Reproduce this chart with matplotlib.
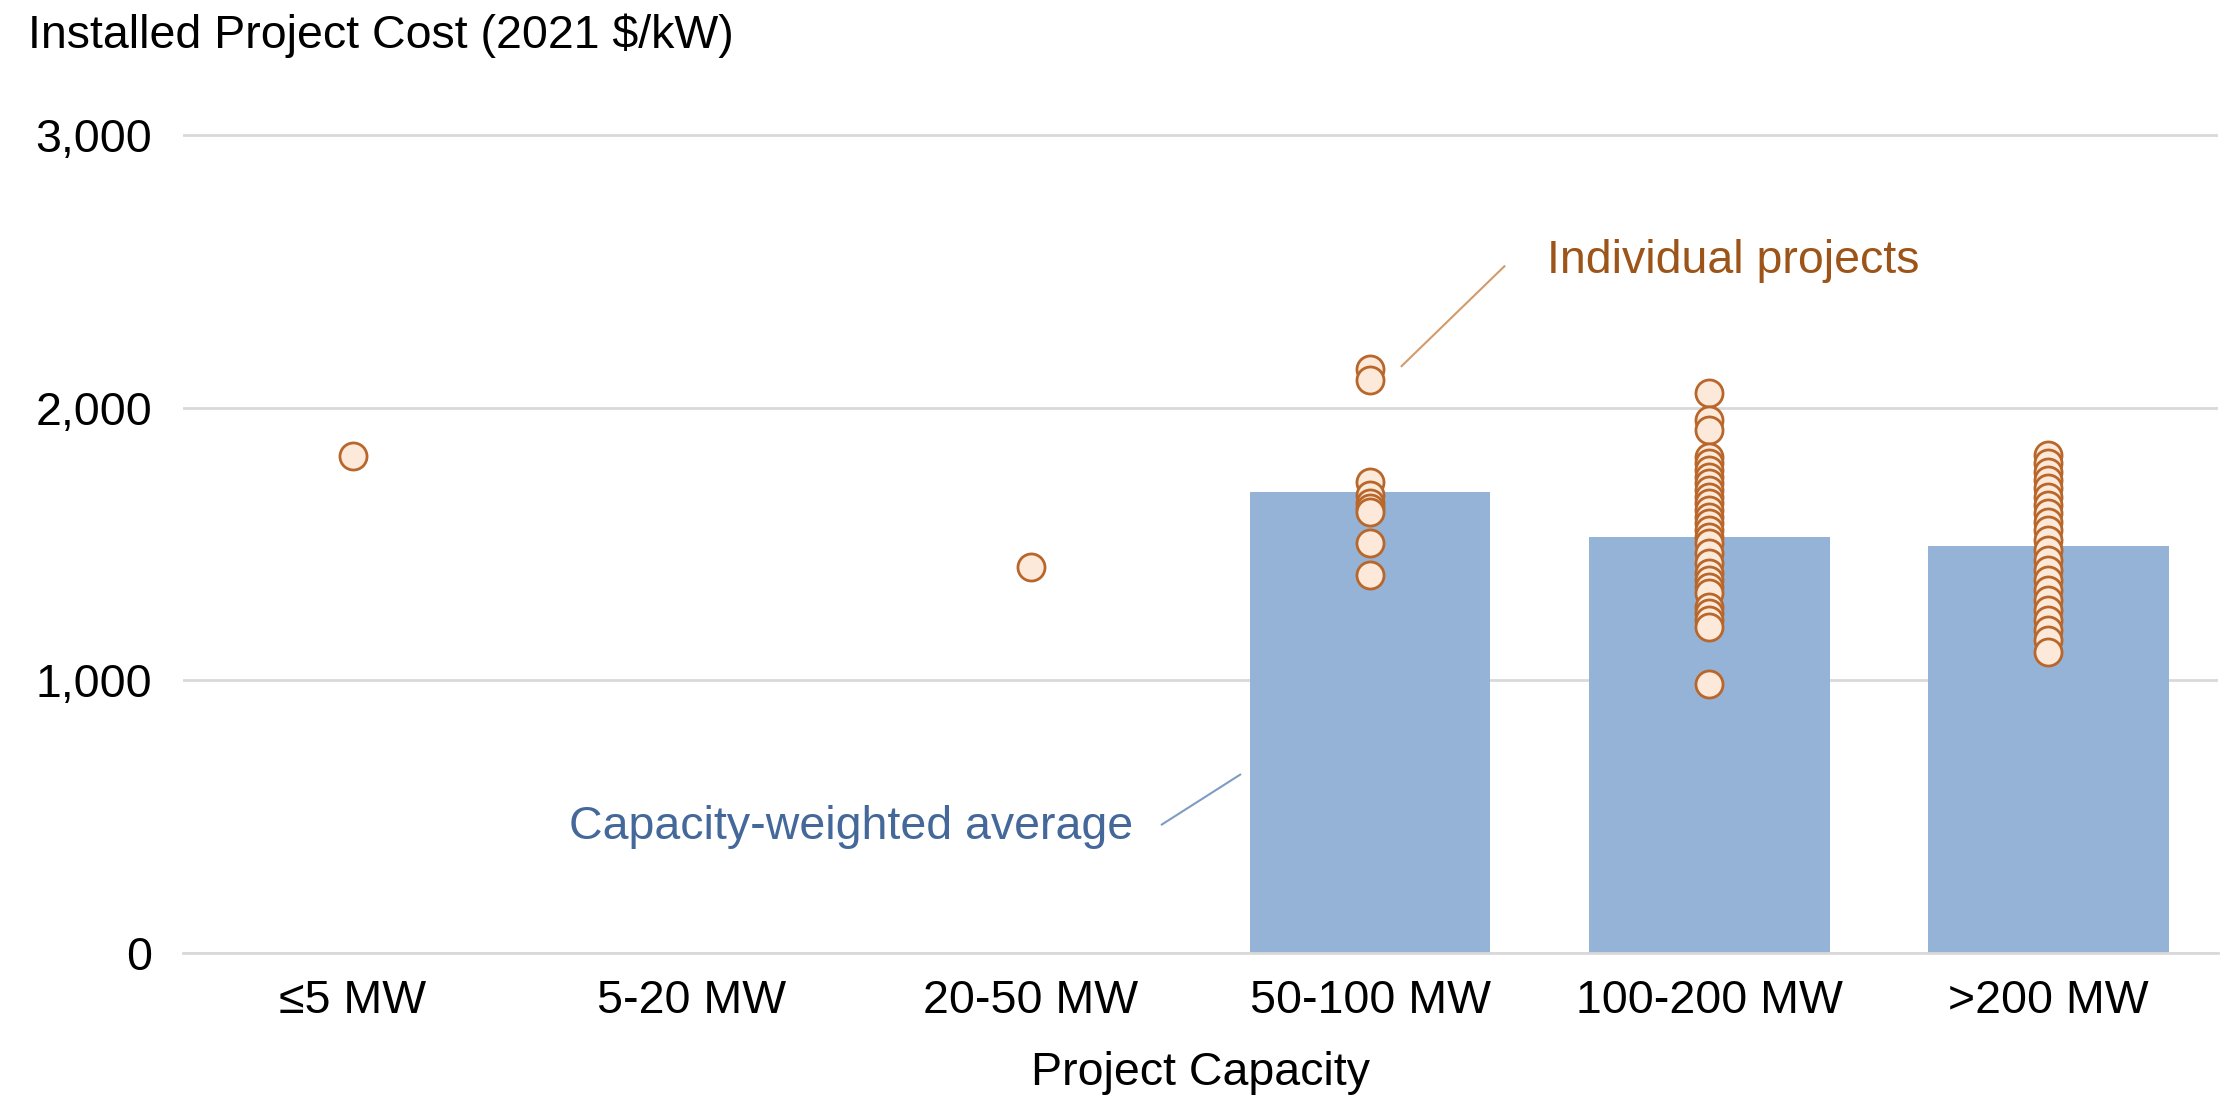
import numpy as np
import matplotlib.pyplot as plt

plt.rcParams['font.family'] = ['Liberation Sans', 'DejaVu Sans']

categories = ['≤5 MW', '5-20 MW', '20-50 MW', '50-100 MW', '100-200 MW', '>200 MW']
weighted_avg = [np.nan, np.nan, np.nan, 1690, 1525, 1492]

projects = {
    '≤5 MW': [1822],
    '5-20 MW': [],
    '20-50 MW': [1414],
    '50-100 MW': [2140, 2100, 1728, 1680, 1650, 1630, 1618, 1503, 1386],
    '100-200 MW': [2053, 1954, 1918, 1820, 1796, 1771, 1747, 1722, 1698, 1673,
                   1649, 1624, 1600, 1576, 1551, 1527, 1502, 1466, 1429, 1393,
                   1368, 1343, 1319, 1270, 1247, 1221, 1197, 985],
    '>200 MW': [1826, 1796, 1765, 1735, 1704, 1673, 1643, 1612, 1582, 1551,
                1514, 1478, 1441, 1404, 1368, 1331, 1294, 1258, 1221, 1184,
                1148, 1105],
}

bar_color = '#95b3d7'
pt_face = '#fde9d9'
pt_edge = '#b8662a'
brown_txt = '#9c5418'
blue_txt = '#44689a'
fs = 33.5

fig = plt.figure(figsize=(22.37, 11.03), dpi=100)
ax = fig.add_axes([0.0818, 0.136, 0.9097, 0.7467])

x = np.arange(len(categories))
ax.bar(x, weighted_avg, width=0.71, color=bar_color, zorder=2)

for i, cat in enumerate(categories):
    vals = projects[cat]
    if vals:
        ax.scatter([i] * len(vals), vals, s=380, facecolor=pt_face,
                   edgecolor=pt_edge, linewidth=2, zorder=3)

ax.set_xlim(-0.5, len(categories) - 0.5)
ax.set_ylim(0, 3020)
ax.set_yticks([0, 1000, 2000, 3000])
ax.set_yticklabels(['0', '1,000', '2,000', '3,000'])
ax.set_xticks(x)
ax.set_xticklabels(categories)
ax.tick_params(axis='both', length=0, labelsize=fs)
ax.tick_params(axis='x', pad=19)
ax.tick_params(axis='y', pad=22)
ax.grid(axis='y', color='#d9d9d9', linewidth=2, zorder=0)
ax.set_axisbelow(True)
for s in ['top', 'right', 'left']:
    ax.spines[s].set_visible(False)
ax.spines['bottom'].set_color('#d9d9d9')
ax.spines['bottom'].set_linewidth(2)

ax.set_xlabel('Project Capacity', fontsize=fs, labelpad=20)
fig.text(28 / 2237, 1 - 36 / 1103, 'Installed Project Cost (2021 $/kW)',
         fontsize=fs, va='center', ha='left')

# annotations
ax.plot([3.093, 3.396], [2152, 2518], color='#d49a6a', linewidth=1.5, zorder=4)
ax.text(3.522, 2539, 'Individual projects', color=brown_txt, fontsize=fs,
        va='center', ha='left')
ax.plot([2.386, 2.617], [471, 654], color='#7f9cc4', linewidth=1.5, zorder=4)
ax.text(0.639, 461, 'Capacity-weighted average', color=blue_txt, fontsize=fs,
        va='center', ha='left')

fig.savefig('out.png', dpi=100)
